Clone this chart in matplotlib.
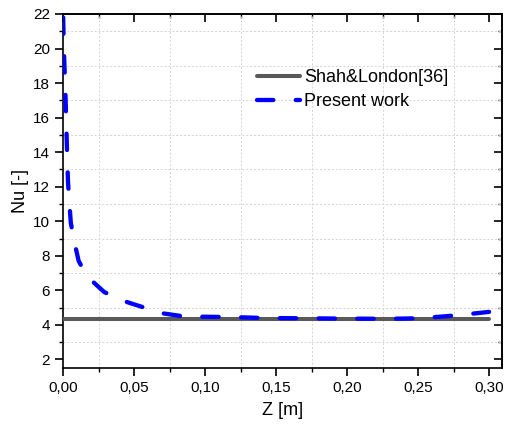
import matplotlib
matplotlib.use("Agg")
import matplotlib.pyplot as plt
from matplotlib.ticker import MultipleLocator, FuncFormatter

plt.rcParams['font.family'] = ['Liberation Sans', 'DejaVu Sans']

# Data
shah_z = [0.0, 0.30]
shah_nu = [4.36, 4.36]

present_z = [0.0001, 0.0005, 0.001, 0.0015, 0.002, 0.0025, 0.003, 0.0035, 0.0045,
             0.0055, 0.008, 0.011, 0.017, 0.029, 0.042, 0.056, 0.069, 0.085, 0.10,
             0.12, 0.14, 0.17, 0.20, 0.23, 0.25, 0.27, 0.285, 0.30]
present_nu = [21.8, 20.2, 19.0, 18.0, 16.5, 15.0, 13.5, 12.3, 11.0,
              9.9, 8.8, 7.7, 6.8, 5.9, 5.4, 5.03, 4.68, 4.49, 4.47,
              4.45, 4.40, 4.38, 4.36, 4.35, 4.38, 4.50, 4.62, 4.75]

grid_x = [0.025, 0.075, 0.125, 0.175, 0.225, 0.275]
grid_y = [3, 5, 7, 9, 11, 13, 15, 17, 19, 21]

fig = plt.figure(figsize=(5.05, 4.24), dpi=100)
ax = fig.add_axes([0.1248, 0.132, 0.869, 0.835])

for gx in grid_x:
    ax.axvline(gx, color='#d4d4d4', linestyle=(0, (2, 2)), lw=0.7, zorder=1)
for gy in grid_y:
    ax.axhline(gy, color='#d4d4d4', linestyle=(0, (2, 2)), lw=0.7, zorder=1)

ax.plot(shah_z, shah_nu, color='#595959', lw=2.9, solid_capstyle='round',
        label='Shah&London[36]', zorder=3)
ax.plot(present_z, present_nu, color='#0000ff', lw=3.1, dashes=(3.8, 5.2),
        dash_capstyle='round', label='Present work', zorder=4)

ax.set_xlim(0, 0.309)
ax.set_ylim(1.5, 22)
ax.xaxis.set_major_locator(MultipleLocator(0.05))
ax.xaxis.set_minor_locator(MultipleLocator(0.025))
ax.yaxis.set_major_locator(MultipleLocator(2))
ax.yaxis.set_minor_locator(MultipleLocator(1))
ax.xaxis.set_major_formatter(FuncFormatter(lambda v, p: f"{v:.2f}".replace('.', ',')))

ax.tick_params(axis='both', which='major', direction='out', length=6, width=1.2,
               labelsize=11, colors='black')
ax.tick_params(axis='both', which='minor', direction='out', length=3, width=1.0)

# top/right inward ticks
axt = ax.secondary_xaxis('top')
axt.xaxis.set_major_locator(MultipleLocator(0.05))
axt.xaxis.set_minor_locator(MultipleLocator(0.025))
axt.tick_params(which='major', direction='in', length=6, width=1.2, labeltop=False)
axt.tick_params(which='minor', direction='in', length=3, width=1.0)
axr = ax.secondary_yaxis('right')
axr.yaxis.set_major_locator(MultipleLocator(2))
axr.yaxis.set_minor_locator(MultipleLocator(1))
axr.tick_params(which='major', direction='in', length=6, width=1.2, labelright=False)
axr.tick_params(which='minor', direction='in', length=3, width=1.0)
for s in axt.spines.values():
    s.set_linewidth(1.2)
for s in axr.spines.values():
    s.set_linewidth(1.2)
for s in ax.spines.values():
    s.set_linewidth(1.2)

ax.set_xlabel('Z [m]', fontsize=13, labelpad=5)
ax.set_ylabel('Nu [-]', fontsize=13, labelpad=3)

leg = ax.legend(loc='upper left', bbox_to_anchor=(0.426, 0.865), frameon=False,
                fontsize=13, handlelength=2.35, handletextpad=0.25, labelspacing=0.38,
                borderaxespad=0)

fig.savefig('out.png', dpi=100)
